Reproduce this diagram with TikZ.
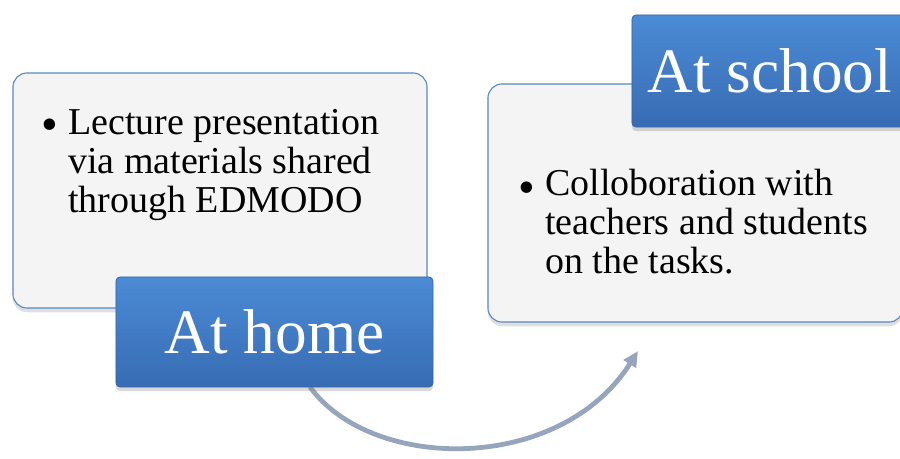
\documentclass[tikz,border=0pt]{standalone}
\usepackage{fontspec}
\setmainfont{Liberation Serif}
\usetikzlibrary{positioning}
\usetikzlibrary{shadows}
\usetikzlibrary{arrows.meta}
\usepackage{xcolor}

\definecolor{cardfill}{HTML}{F4F4F4}
\definecolor{cardline}{HTML}{5A88C4}
\definecolor{tabtop}{HTML}{4C8BD6}
\definecolor{tabbot}{HTML}{376CB3}
\definecolor{tabline}{HTML}{3566A6}
\definecolor{arrowgray}{HTML}{96A5BE}

\begin{document}
\begin{tikzpicture}[x=0.025cm, y=-0.025cm,
  card/.style={draw=cardline, line width=0.8pt, fill=cardfill, rounded corners=10pt, inner sep=0pt,
    drop shadow={opacity=0.25, shadow xshift=0pt, shadow yshift=-3pt}},
  tab/.style={draw=tabline, line width=0.6pt, top color=tabtop, bottom color=tabbot, rounded corners=3pt,
    inner sep=0pt, text=white, font=\fontsize{45}{45}\selectfont,
    drop shadow={opacity=0.3, shadow xshift=0pt, shadow yshift=-3pt}},
  note/.style={align=left, inner sep=0pt, anchor=base west, font=\fontsize{27}{27.5}\selectfont},
  bul/.style={inner sep=0pt, anchor=base west, font=\fontsize{34}{34}\selectfont}]

\useasboundingbox (0,0) rectangle (900,459);

% left card, at home
\node[card, minimum width=10.35cm, minimum height=5.875cm] (homecard) at (220,190.5) {};
\node[bul] (homebul) at (41,141) {\textbullet};
\node[note] (homenote) at (68,212) {Lecture presentation\\via materials shared\\through EDMODO};

% right card, at school
\node[card, minimum width=10.375cm, minimum height=5.95cm] (schoolcard) at (695.5,203) {};
\node[bul] (schoolbul) at (518,203) {\textbullet};
\node[note] (schoolnote) at (545,273) {Colloboration with\\teachers and students\\on the tasks.};

% curved arrow
\coordinate (tip) at (638,351);
\draw[arrowgray, line width=3.4pt, -{Triangle[length=11pt, width=10pt]}]
  (310,387) .. controls (372,472) and (560,474) .. (tip);

% blue tabs
\node[tab, minimum width=7.925cm, minimum height=2.75cm] (home) at (274.5,332) {At home};
\node[tab, minimum width=6.9cm, minimum height=2.8cm] (school) at (770,71) {At school};

\end{tikzpicture}
\end{document}
